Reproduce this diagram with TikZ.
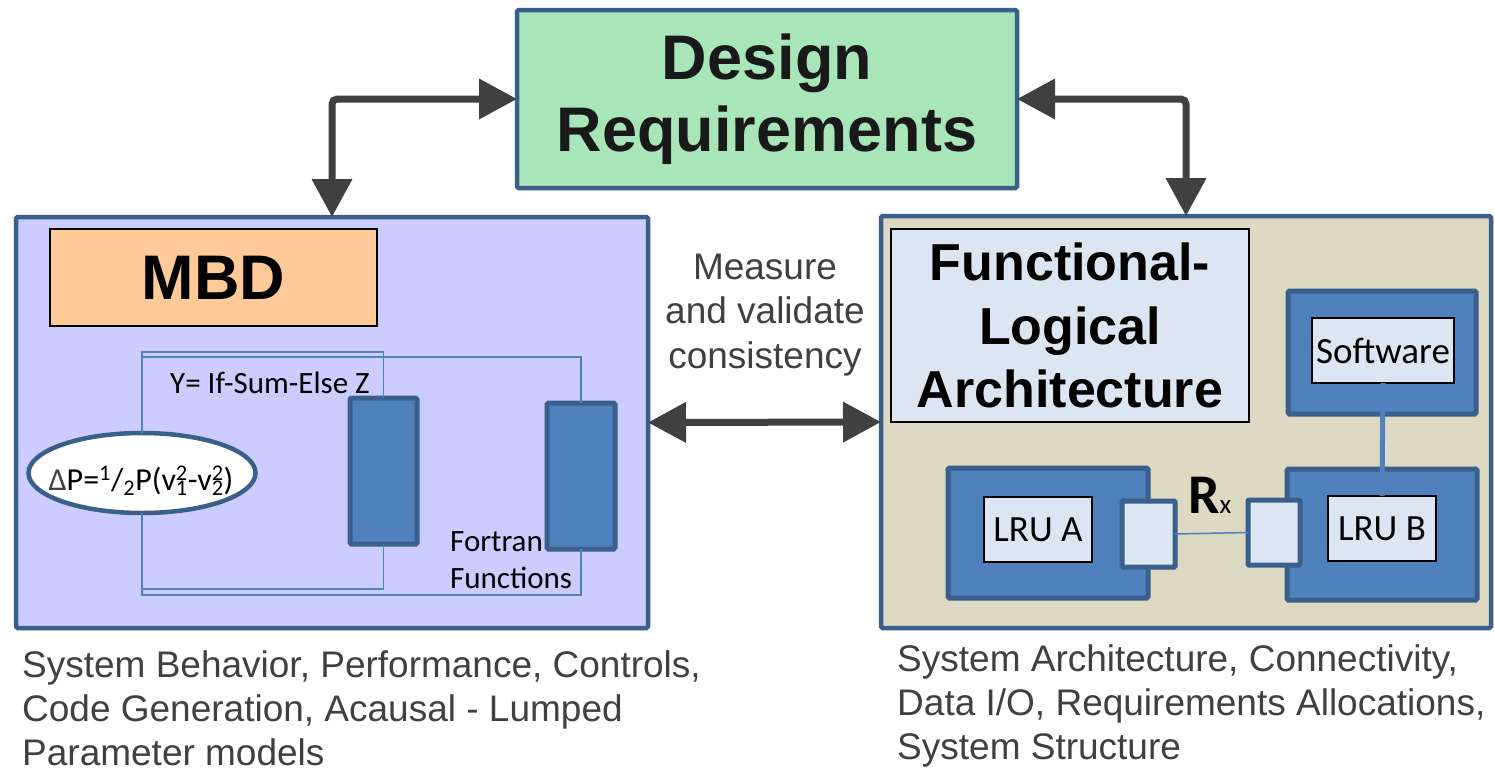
\documentclass[tikz,border=0pt]{standalone}
\usepackage{fontspec}
\setmainfont{Liberation Sans}
\newfontfamily\calib{Carlito}
\usetikzlibrary{arrows.meta,shapes.geometric}

\definecolor{frameblue}{HTML}{3A5F8A}
\definecolor{blockblue}{HTML}{4F81BD}
\definecolor{paleblue}{HTML}{DCE6F2}
\definecolor{lavender}{HTML}{CCCCFF}
\definecolor{beige}{HTML}{DDD9C3}
\definecolor{peach}{HTML}{FFCA97}
\definecolor{mint}{HTML}{A8E5B9}
\definecolor{arrowgray}{HTML}{404040}
\definecolor{textgray}{HTML}{404040}

% superscript stacked over subscript, as in v_1^2
\newcommand\supsubpair[2]{\makebox[0pt][l]{\textsuperscript{#2}}\textsubscript{#1}}

\tikzset{
  panel/.style={draw=frameblue, line width=4.5pt, inner sep=0pt, outer sep=0pt, rounded corners=1.5pt},
  titlebox/.style={draw=black, line width=1.5pt, inner sep=0pt, outer sep=0pt},
  blockbox/.style={draw=frameblue, fill=blockblue, line width=5pt, inner sep=0pt, outer sep=0pt, rounded corners=1.5pt},
  portbox/.style={draw=frameblue, fill=paleblue, line width=5pt, inner sep=0pt, outer sep=0pt, rounded corners=1pt},
  labelbox/.style={draw=black, fill=paleblue, line width=1.5pt, inner sep=0pt, outer sep=0pt,
    font=\calib\fontsize{37}{40}\selectfont},
  wire/.style={draw=blockblue, line width=1.5pt},
  dblarrow/.style={draw=arrowgray, line width=7pt, rounded corners=5pt,
    {Triangle[length=38pt,width=39pt]}-{Triangle[length=38pt,width=39pt]}},
  graytext/.style={text=textgray, inner sep=0pt, font=\fontsize{37}{44}\selectfont},
  smalltext/.style={inner sep=0pt, font=\calib\fontsize{31}{36}\selectfont},
}

\begin{document}
\begin{tikzpicture}[x=1pt,y=-1pt]
\useasboundingbox[fill=white] (0,0) rectangle (1495,771);

% three main panels
\node[panel, fill=mint, minimum width=500, minimum height=178,
      font=\bfseries\fontsize{63}{72}\selectfont, text=black!90, align=center]
  (design) at (767,99) {Design\\Requirements};
\node[panel, fill=lavender, minimum width=632, minimum height=411] (left) at (332,422.5) {};
\node[panel, fill=beige, minimum width=610, minimum height=412] (right) at (1186,422) {};

% panel titles
\node[titlebox, fill=peach, minimum width=327, minimum height=97,
      font=\bfseries\fontsize{63}{63}\selectfont] (mbd) at (213.5,277.5) {MBD};
\node[titlebox, fill=paleblue, minimum width=358, minimum height=193,
      font=\bfseries\fontsize{52}{63.5}\selectfont, align=center]
  (fla) at (1070,325.5) {Functional-\\Logical\\Architecture};

% MBD contents: equation block wired to two function blocks
\node[draw=frameblue, fill=white, line width=4.5pt, ellipse, inner sep=0pt, outer sep=0pt,
      minimum width=227, minimum height=80] (eq) at (142,473) {};
\node[blockbox, minimum width=67, minimum height=146] (fa) at (383.5,471) {};
\node[blockbox, minimum width=68, minimum height=146] (fb) at (581,476) {};

\draw[wire] (eq.north) -- ++(0,-81) -| (fa.north);
\draw[wire] (eq.north) -- ++(0,-76) -| (fb.north);
\draw[wire] (eq.south) -- ++(0,76) -| (fa.south);
\draw[wire] (eq.south) -- ++(0,82) -| (fb.south);

\node[smalltext, anchor=base, font=\calib\fontsize{32}{36}\selectfont] (eqtext) at (141,490)
  {{\color{textgray}Δ}P=\textsuperscript{1}/\textsubscript{2}P(v\supsubpair{1}{2}-v\supsubpair{2}{2})};
\node[smalltext, anchor=base west] (iftext) at (170,393) {Y= If-Sum-Else Z};
\node[smalltext, anchor=base west] (fortran) at (450,551) {Fortran};
\node[smalltext, anchor=base west] (functions) at (450,588) {Functions};

% architecture contents
\node[blockbox, minimum width=188, minimum height=123] (swo) at (1382,352.5) {};
\node[labelbox, minimum width=142, minimum height=65] (swi) at (1383,350.5) {Software};
\node[blockbox, minimum width=200, minimum height=130] (lrua) at (1048,533) {};
\node[labelbox, minimum width=108, minimum height=65] (lruatext) at (1038,529.5) {LRU A};
\node[blockbox, minimum width=190, minimum height=131] (lrub) at (1382,534.5) {};
\node[labelbox, minimum width=108, minimum height=65] (lrubtext) at (1382,528.5) {LRU B};
\node[portbox, minimum width=53, minimum height=66] (pa) at (1148.5,534) {};
\node[portbox, minimum width=52, minimum height=65] (pb) at (1274,532.5) {};

\draw[wire] (pa.east) -- (pb.west);
\draw[draw=blockblue, line width=5pt] (swi.south) -- (lrubtext.north);

\node[inner sep=0pt, anchor=base west] (rx) at (1188,513)
  {{\calib\bfseries\fontsize{56}{56}\selectfont R}{\calib\fontsize{27}{27}\selectfont x}};

% relations
\draw[dblarrow] (left.north) |- (design.west);
\draw[dblarrow] (right.north) |- (design.east);
\draw[dblarrow, rounded corners=0pt] (left.east) -- (right.west);

\node[graytext, anchor=base] (m1) at (765,279) {Measure};
\node[graytext, anchor=base] (m2) at (765,323) {and validate};
\node[graytext, anchor=base] (m3) at (765,368) {consistency};

% captions
\node[graytext, anchor=base west] (l1) at (22,677) {System Behavior, Performance, Controls,};
\node[graytext, anchor=base west] (l2) at (22,721) {Code Generation, Acausal - Lumped};
\node[graytext, anchor=base west] (l3) at (22,765) {Parameter models};
\node[graytext, anchor=base west] (r1) at (897,671) {System Architecture, Connectivity,};
\node[graytext, anchor=base west] (r2) at (897,715) {Data I/O, Requirements Allocations,};
\node[graytext, anchor=base west] (r3) at (897,759) {System Structure};
\end{tikzpicture}
\end{document}
